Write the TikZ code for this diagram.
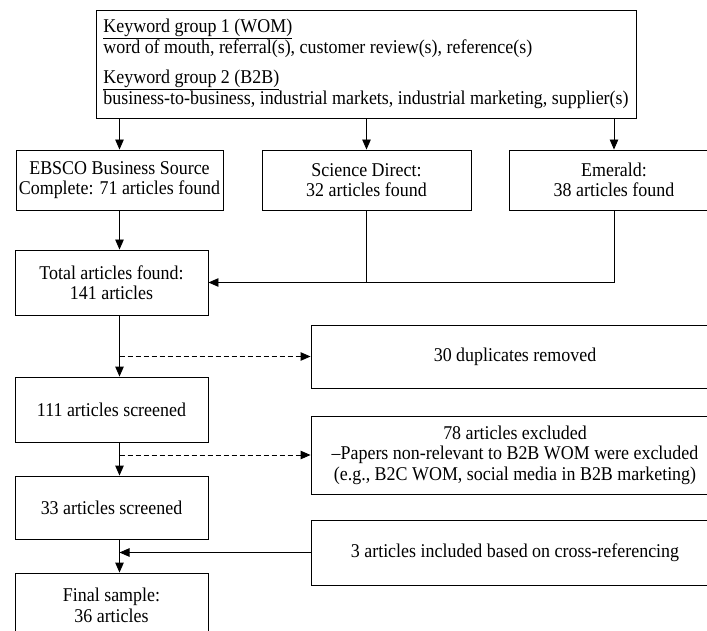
\documentclass[tikz,border=0pt]{standalone}
\usepackage{fontspec}
\setmainfont{Liberation Serif}[FakeStretch=0.92]
\usetikzlibrary{arrows.meta}

\tikzset{
  box/.style={draw, align=center, inner sep=0pt, font=\fontsize{19.5}{20.5}\selectfont},
  arr/.style={-{Triangle[length=10pt,width=8.5pt]}},
  dasharr/.style={arr, dash pattern=on 5pt off 3pt}
}

\begin{document}
\begin{tikzpicture}[x=1pt,y=-1pt,line width=0.9pt]
\useasboundingbox (0,0) rectangle (707,631);
\clip (0,0) rectangle (707,631);
\node[box, align=left, minimum width=540pt, minimum height=108pt, font=\fontsize{19.5}{21.5}\selectfont] (kw) at (366,64) {\underline{Keyword group 1 (WOM)}\\word of mouth, referral(s), customer review(s), reference(s)\\[8pt]\underline{Keyword group 2 (B2B)}\\business-to-business, industrial markets, industrial marketing, supplier(s)};
\node[box, minimum width=207pt, minimum height=60pt] (ebsco) at (119.5,180) {EBSCO Business Source\\Complete: 71 articles found};
\node[box, minimum width=209pt, minimum height=60pt] (sci) at (366.5,180) {Science Direct:\\32 articles found};
\node[box, minimum width=210pt, minimum height=60pt] (emer) at (614,180) {Emerald:\\38 articles found};
\node[box, minimum width=193pt, minimum height=65pt] (total) at (111.5,282.5) {Total articles found:\\141 articles};
\node[box, minimum width=408pt, minimum height=63pt] (dup) at (515,356.5) {30 duplicates removed};
\node[box, minimum width=193pt, minimum height=65pt] (scr1) at (111.5,409.5) {111 articles screened};
\node[box, minimum width=408pt, minimum height=78pt] (excl) at (515,455) {78 articles excluded\\--Papers non-relevant to B2B WOM were excluded\\(e.g., B2C WOM, social media in B2B marketing)};
\node[box, minimum width=193pt, minimum height=63pt] (scr2) at (111.5,507.5) {33 articles screened};
\node[box, minimum width=408pt, minimum height=65pt] (incl) at (515,552.5) {3 articles included based on cross-referencing};
\node[box, minimum width=193pt, minimum height=65pt] (final) at (111.5,605.5) {Final sample:\\36 articles};
\draw[arr] (kw.south -| ebsco.north) -- (ebsco.north);
\draw[arr] (kw.south -| sci.north) -- (sci.north);
\draw[arr] (kw.south -| emer.north) -- (emer.north);
\draw[arr] (ebsco.south) -- (ebsco.south |- total.north);
\draw (emer.south) |- (sci.south |- total.east);
\draw[arr] (sci.south) |- (total.east);
\draw[arr] (ebsco.south |- total.south) -- (ebsco.south |- scr1.north);
\draw[dasharr] (ebsco.south |- dup.west) -- (dup.west);
\draw[arr] (ebsco.south |- scr1.south) -- (ebsco.south |- scr2.north);
\draw[dasharr] (ebsco.south |- excl.west) -- (excl.west);
\draw[arr] (ebsco.south |- scr2.south) -- (ebsco.south |- final.north);
\draw[arr] (incl.west) -- (ebsco.south |- incl.west);
\end{tikzpicture}
\end{document}
